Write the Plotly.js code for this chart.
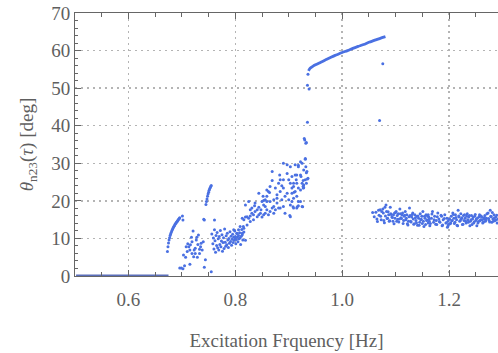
<!DOCTYPE html>
<html>
<head>
<meta charset="utf-8">
<script src="https://cdn.plot.ly/plotly-3.0.1.min.js"></script>
<style>html,body{margin:0;padding:0;background:#fff;}#chart{width:498px;height:353px;}</style>
</head>
<body>
<div id="chart"></div>
<script>
// Flat branch at zero
const flatX = [0.502, 0.675];
const flatY = [0, 0];

// Lower branch curve near 0.68-0.70 Hz
const curve1X = [0.673,0.674,0.675,0.676,0.677,0.678,0.679,0.680,0.681,0.682,0.683,0.684,0.685,0.686,0.687,0.688,0.689,0.690,0.691,0.692,0.693,0.694,0.695,0.696];
const curve1Y = [6.5,7.8,8.8,9.6,10.2,10.8,11.2,11.6,12.0,12.3,12.6,12.9,13.2,13.4,13.7,13.9,14.1,14.3,14.5,14.7,14.9,15.1,15.3,15.5];

// Short curve near 0.75 Hz
const curve2X = [0.745,0.746,0.747,0.748,0.749,0.750,0.751,0.752,0.753,0.754,0.755];
const curve2Y = [19.0,19.8,20.5,21.2,21.8,22.3,22.8,23.2,23.5,23.8,24.1];

// Upper branch 0.937-1.081 Hz
const upperX = [0.937,0.940,0.945,0.950,0.960,0.970,0.980,0.990,1.000,1.010,1.020,1.030,1.040,1.050,1.060,1.070,1.081];
const upperY = [54.6,55.3,55.8,56.2,56.9,57.6,58.3,58.9,59.5,60.0,60.6,61.1,61.6,62.2,62.7,63.2,63.7];

// Scattered points 0.69-0.76 Hz
const scatAX = [0.696,0.699,0.702,0.701,0.702,0.705,0.715,0.703,0.707,0.710,0.713,0.716,0.715,0.719,0.721,0.723,0.725,0.727,0.728,0.731,0.733,0.735,0.736,0.722,0.733,0.740,0.742,0.744,0.742,0.755,0.711,0.718,0.730,0.738,0.719,0.725,0.708,0.729,0.761,0.741];
const scatAY = [2.1,2.1,1.9,16.0,14.9,2.7,3.1,5.6,5.0,6.5,7.8,8.3,6.9,9.1,12.0,6.9,7.4,9.6,10.3,10.9,7.1,7.8,8.7,5.1,6.0,9.1,14.9,4.3,2.3,1.1,8.6,10.3,8.4,6.9,6.0,6.0,7.8,5.0,14.9,15.1];

// Dense cluster 0.755-0.816 Hz
const scatBX = [0.756,0.758,0.759,0.760,0.761,0.762,0.763,0.764,0.765,0.766,0.767,0.768,0.769,0.770,0.771,0.772,0.773,0.774,0.775,0.776,0.777,0.778,0.779,0.780,0.781,0.782,0.783,0.784,0.785,0.786,0.787,0.788,0.789,0.790,0.791,0.792,0.793,0.794,0.795,0.796,0.797,0.798,0.799,0.800,0.801,0.802,0.803,0.804,0.805,0.806,0.807,0.808,0.809,0.810,0.811,0.812,0.813,0.814,0.815,0.816];
const scatBY = [11.2,8.6,10.1,7.2,12.3,9.4,6.3,10.8,8.1,11.6,7.5,9.9,6.9,10.5,8.4,12.1,7.8,9.3,11.0,6.6,8.9,10.2,7.3,12.5,9.0,7.9,10.7,8.3,11.4,9.6,7.6,10.0,8.7,11.8,9.2,10.6,8.2,9.8,11.1,8.9,10.3,9.5,12.0,10.1,8.6,9.7,11.3,10.4,9.1,10.8,9.9,11.5,10.2,8.4,10.6,12.4,11.0,9.6,13.2,11.7];

// Rising cluster 0.80-0.94 Hz
const scatCX = [0.813,0.816,0.819,0.822,0.825,0.828,0.831,0.834,0.837,0.841,0.844,0.847,0.850,0.853,0.856,0.859,0.862,0.865,0.869,0.872,0.875,0.819,0.825,0.828,0.831,0.836,0.844,0.852,0.853,0.856,0.859,0.862,0.864,0.869,0.869,0.872,0.875,0.878,0.881,0.884,0.887,0.890,0.893,0.897,0.900,0.902,0.903,0.906,0.909,0.910,0.912,0.915,0.918,0.922,0.925,0.927,0.929,0.931,0.933,0.934,0.936,0.915,0.918,0.922,0.925,0.900,0.903,0.890,0.884,0.878,0.872,0.865,0.859,0.850,0.856,0.848,0.844,0.893,0.897,0.906,0.909,0.912,0.915,0.890,0.884,0.878,0.881,0.887,0.897,0.903,0.918,0.923,0.928,0.931,0.933,0.906,0.909,0.922,0.925,0.915,0.890,0.883,0.865,0.859,0.853,0.841,0.837,0.834,0.828,0.822,0.816,0.809,0.806,0.813,0.803,0.797,0.800,0.819,0.935,0.930,0.932,0.931,0.932,0.933,0.935,0.927,0.922,0.912,0.918,0.908,0.916,0.926,0.903,0.928,0.927,0.928,0.909,0.914,0.918,0.906,0.936,0.938];
const scatCY = [15.4,15.0,15.7,15.8,15.4,16.0,16.7,16.3,17.2,15.8,16.3,16.7,15.7,16.3,16.7,17.6,16.3,17.2,18.1,16.7,17.6,18.9,19.8,17.6,18.1,18.7,22.0,21.2,20.1,18.5,19.8,22.5,22.2,27.8,25.4,20.3,23.4,20.7,24.7,25.6,24.0,30.0,16.7,29.6,25.6,16.1,24.7,23.4,18.1,22.3,29.6,26.9,18.7,30.4,30.0,23.4,36.6,31.3,35.5,27.8,26.0,24.7,23.4,22.9,24.7,20.3,18.9,18.5,18.1,19.4,18.5,19.8,21.2,19.8,20.3,17.6,18.3,21.2,22.0,26.5,24.7,22.5,21.2,23.4,22.5,21.6,18.1,20.3,27.3,29.1,29.1,26.5,28.2,25.6,24.7,19.8,20.7,19.8,18.5,18.1,25.6,26.9,23.8,22.9,18.9,17.6,19.4,15.0,14.5,13.6,12.7,13.2,12.3,11.4,11.4,12.3,10.5,9.5,40.9,36.2,35.3,31.1,29.1,27.5,25.8,25.4,26.9,26.9,29.5,18.4,18.4,18.4,15.8,24.2,23.9,23.5,23.8,25.6,19.8,22.0,53.7,49.8];

// Outliers near the top branch end
const outX = [1.076, 1.070, 0.935];
const outY = [56.5, 41.4, 50.8];

// Right band 1.055-1.29 Hz
const bandX = [1.057,1.065,1.068,1.071,1.072,1.074,1.077,1.078,1.080,1.082,1.083,1.085,1.087,1.088,1.090,1.091,1.093,1.095,1.096,1.098,1.099,1.101,1.102,1.103,1.105,1.107,1.108,1.110,1.112,1.113,1.115,1.116,1.118,1.120,1.121,1.122,1.124,1.126,1.127,1.128,1.130,1.132,1.133,1.135,1.136,1.138,1.140,1.141,1.143,1.145,1.146,1.147,1.149,1.151,1.152,1.153,1.155,1.157,1.158,1.160,1.161,1.163,
1.060,1.063,1.066,1.069,1.073,1.076,1.079,1.081,1.084,1.086,1.089,1.092,1.094,1.097,1.100,1.104,1.106,1.109,1.111,1.114,1.117,1.119,1.123,1.125,1.129,1.131,1.134,1.137,1.139,1.142,1.144,1.148,1.150,1.154,1.156,1.159,1.162,
1.161,1.163,1.164,1.167,1.169,1.171,1.173,1.176,1.177,1.179,1.181,1.183,1.186,1.187,1.189,1.192,1.194,1.196,1.197,1.198,1.199,1.201,1.203,1.204,1.206,1.207,1.209,1.211,1.212,1.214,1.216,1.217,1.219,1.220,1.222,1.223,1.225,1.227,1.228,1.230,1.232,1.234,1.235,1.237,1.239,1.240,1.242,1.244,1.246,1.248,1.250,1.252,1.253,1.255,1.257,1.259,1.261,1.263,1.265,1.267,1.268,1.270,1.273,1.275,1.277,1.278,1.280,1.282,1.284,1.286,1.288,1.290,
1.165,1.168,1.172,1.175,1.178,1.182,1.185,1.188,1.191,1.195,1.198,1.200,1.202,1.205,1.208,1.210,1.213,1.215,1.218,1.221,1.224,1.226,1.229,1.231,1.233,1.236,1.238,1.241,1.243,1.245,1.247,1.249,1.251,1.254,1.256,1.258,1.260,1.262,1.264,1.266,1.269,1.271,1.274,1.276,1.279,1.281,1.283,1.285,1.287,1.289,1.291];
const bandY = [16.9,15.2,17.5,17.6,15.9,17.2,16.8,14.8,18.3,18.9,17.2,15.4,16.3,14.6,18.3,16.6,15.7,14.6,16.3,16.8,15.4,17.2,14.6,16.1,16.6,15.2,17.8,15.5,16.3,16.8,14.8,15.9,17.2,15.4,16.3,13.9,14.6,18.1,16.1,14.6,15.7,16.8,15.2,13.9,16.3,14.8,15.9,13.5,15.4,14.3,16.6,15.0,15.9,17.2,14.6,13.2,15.4,16.3,14.8,15.9,14.1,15.2,
15.8,17.0,14.5,16.2,15.0,17.8,14.2,16.0,15.3,17.1,14.7,16.4,15.6,13.9,16.9,15.1,14.4,16.6,15.3,14.0,16.2,15.0,13.6,15.8,14.4,16.4,13.8,15.5,14.2,16.0,13.5,15.1,14.0,15.9,13.7,14.9,15.7,
16.3,14.6,13.4,15.4,17.2,14.3,15.9,14.8,13.7,16.8,15.2,14.3,15.9,13.4,15.0,16.3,14.1,15.4,13.0,14.6,13.7,15.2,14.1,15.9,14.8,16.8,15.4,14.3,16.3,15.0,13.4,17.5,15.7,14.6,16.6,15.2,13.7,16.1,14.8,15.4,14.1,16.6,15.0,15.7,13.4,14.6,16.1,15.2,14.1,15.9,14.8,13.4,15.4,14.5,16.3,15.0,15.7,14.1,15.2,16.1,14.6,15.4,16.8,14.8,17.5,15.9,14.3,15.2,16.3,14.8,15.7,14.1,
14.0,16.5,15.0,13.8,15.8,14.5,16.2,13.6,15.3,14.2,13.3,15.1,13.9,14.7,16.4,14.0,15.6,13.5,16.0,14.8,15.5,13.8,16.3,14.6,15.9,14.3,16.1,15.0,13.7,15.7,14.4,16.4,15.2,14.1,15.8,14.7,16.0,15.0,14.3,15.6,14.9,16.6,15.3,14.4,15.8,16.9,14.6,15.5,14.9,16.2,15.1];

const xTickVals = [0.6, 0.8, 1.0, 1.2];
const xTickText = ['0.6', '0.8', '1.0', '1.2'];
const yTickVals = [0, 10, 20, 30, 40, 50, 60, 70];

const blue = 'rgb(74,112,226)';
const dotMarker = {color: blue, size: 3};
const textColor = '#5f5f5f';
const font = 'Liberation Serif';

const traces = [
  {x: flatX, y: flatY, mode: 'lines', line: {color: 'rgb(90,110,185)', width: 3}, cliponaxis: false, hoverinfo: 'none'},
  {x: curve1X, y: curve1Y, mode: 'markers', marker: dotMarker},
  {x: curve2X, y: curve2Y, mode: 'markers', marker: dotMarker},
  {x: upperX, y: upperY, mode: 'lines', line: {color: blue, width: 2.8, shape: 'spline'}},
  {x: scatAX, y: scatAY, mode: 'markers', marker: dotMarker},
  {x: scatBX, y: scatBY, mode: 'markers', marker: dotMarker},
  {x: scatCX, y: scatCY, mode: 'markers', marker: dotMarker},
  {x: outX, y: outY, mode: 'markers', marker: dotMarker},
  {x: bandX, y: bandY, mode: 'markers', marker: dotMarker}
];

const layout = {
  width: 498, height: 353,
  margin: {l: 75, r: 0, t: 13, b: 77},
  paper_bgcolor: '#fff', plot_bgcolor: '#fff',
  showlegend: false,
  font: {family: font, color: textColor, size: 19},
  xaxis: {
    range: [0.5, 1.2916],
    tickvals: xTickVals, ticktext: xTickText,
    ticks: 'inside', ticklen: 6, tickwidth: 1, tickcolor: '#666',
    showline: true, linecolor: '#666', linewidth: 1, mirror: 'ticks',
    showgrid: true, gridcolor: '#b4b4b4', gridwidth: 1.5, griddash: '2px,4px',
    zeroline: false,
    minor: {dtick: 0.05, tick0: 0, ticks: 'inside', ticklen: 4, tickcolor: '#666', showgrid: false},
    tickfont: {family: font, size: 19, color: textColor},
    ticklabelstandoff: 6,
    title: {text: 'Excitation Frquency [Hz]', font: {family: font, size: 19, color: textColor}, standoff: 24}
  },
  yaxis: {
    range: [0, 70],
    tickvals: yTickVals,
    ticks: 'inside', ticklen: 6, tickwidth: 1, tickcolor: '#666',
    showline: true, linecolor: '#666', linewidth: 1, mirror: false,
    showgrid: true, gridcolor: '#b4b4b4', gridwidth: 1.5, griddash: '2px,4px',
    zeroline: false,
    minor: {dtick: 2, tick0: 0, ticks: 'inside', ticklen: 3, tickcolor: '#666', showgrid: false},
    tickfont: {family: font, size: 19, color: textColor},
    title: {text: '<i>θ</i><sub>n23</sub>(<i>τ</i>) [deg]', font: {family: font, size: 19, color: textColor}, standoff: 12}
  }
};

Plotly.newPlot('chart', traces, layout, {staticPlot: true, displayModeBar: false});
</script>
</body>
</html>
